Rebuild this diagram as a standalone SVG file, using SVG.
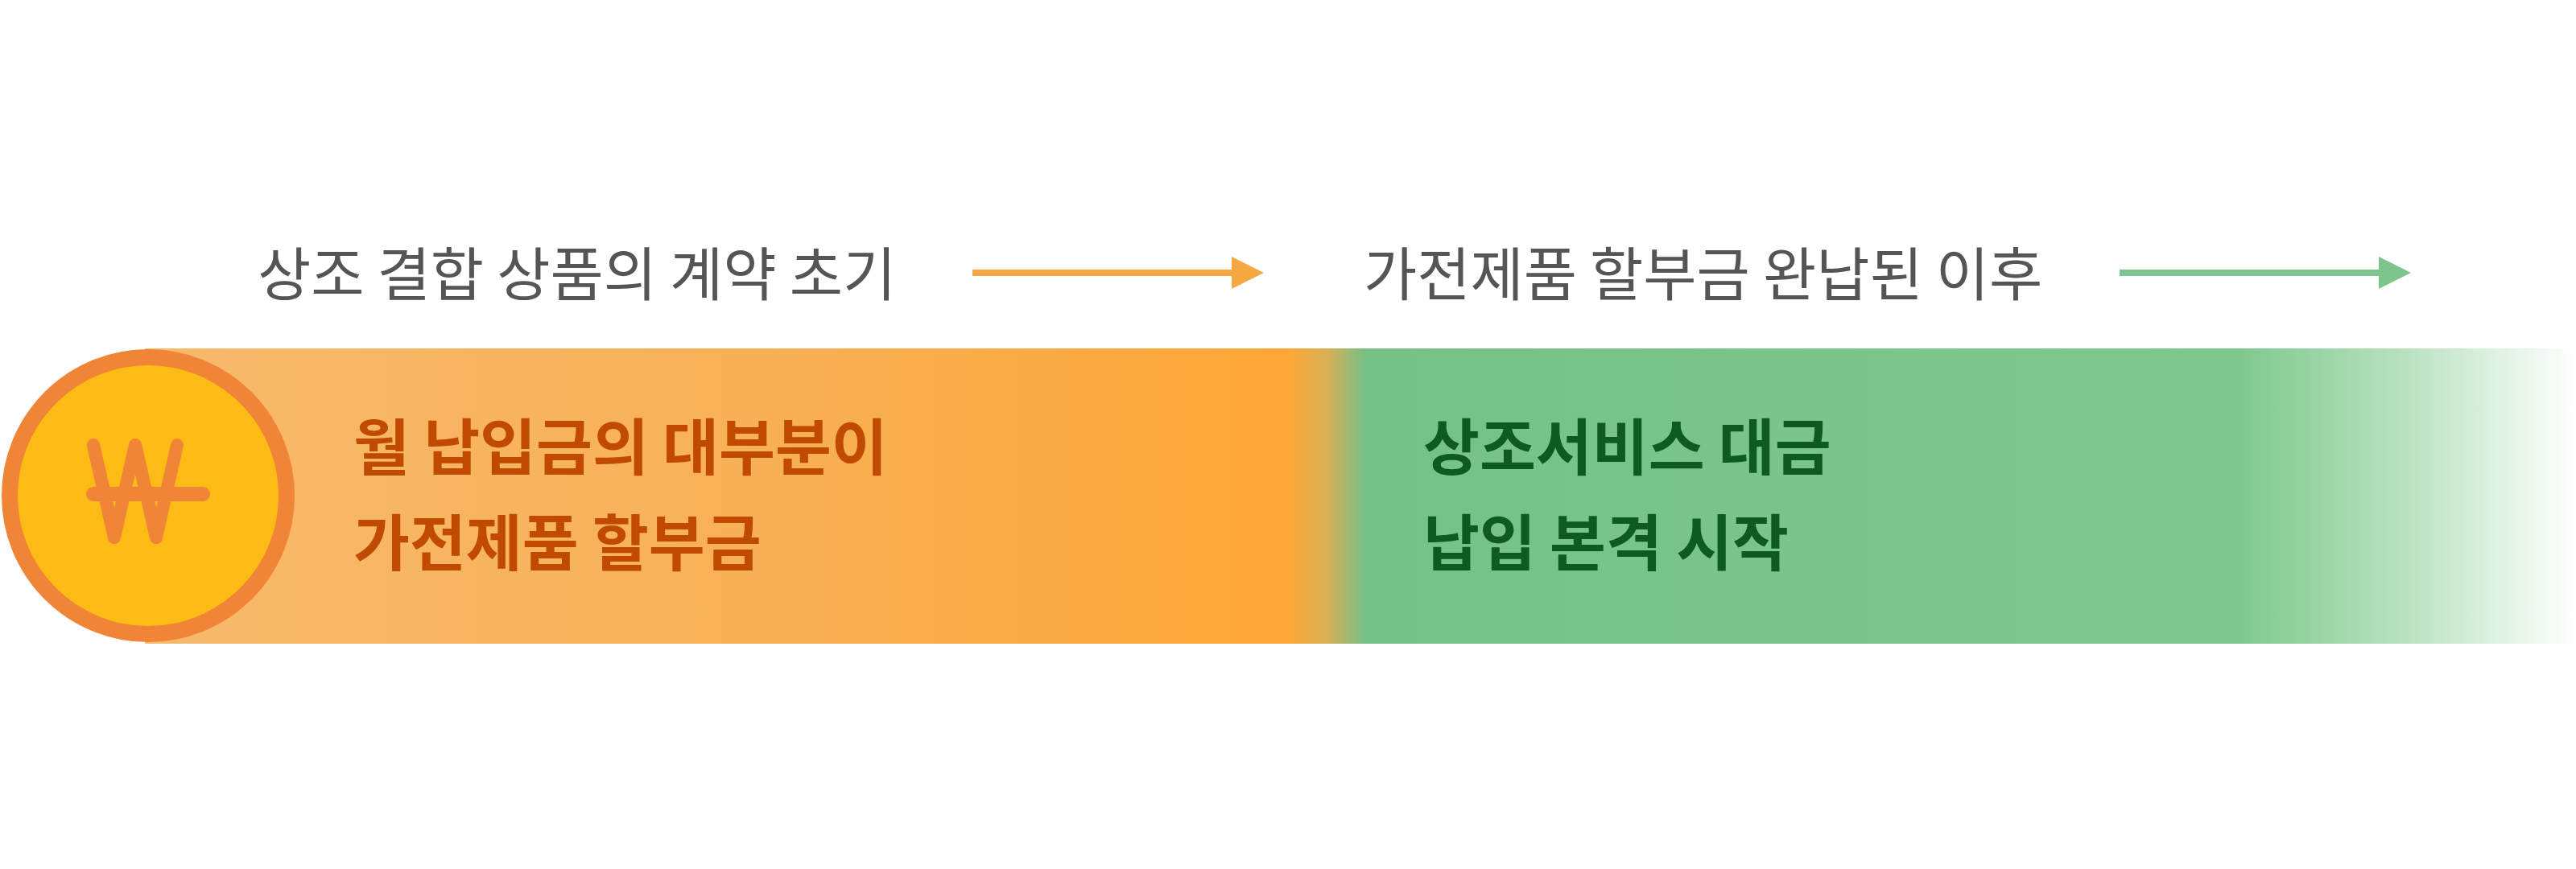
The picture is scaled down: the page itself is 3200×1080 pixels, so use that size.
<svg xmlns="http://www.w3.org/2000/svg" width="3200" height="1080" viewBox="0 0 3200 1080">
<defs>
<linearGradient id="band" x1="0" y1="0" x2="3200" y2="0" gradientUnits="userSpaceOnUse">
<stop offset="0" stop-color="#F6BC72"/>
<stop offset="0.3" stop-color="#F8B055"/>
<stop offset="0.5" stop-color="#FEA736"/>
<stop offset="0.515" stop-color="#D9AF55"/>
<stop offset="0.53" stop-color="#76C186"/>
<stop offset="0.87" stop-color="#80C98E"/>
<stop offset="0.93" stop-color="#B5E0BD"/>
<stop offset="1" stop-color="#FFFFFF"/>
</linearGradient>
<marker id="ho" viewBox="0 0 10 10" refX="0" refY="5" markerWidth="5" markerHeight="5" orient="auto" markerUnits="strokeWidth"><path d="M0,0 L10,5 L0,10 Z" fill="#F5A742"/></marker>
<marker id="hg" viewBox="0 0 10 10" refX="0" refY="5" markerWidth="5" markerHeight="5" orient="auto" markerUnits="strokeWidth"><path d="M0,0 L10,5 L0,10 Z" fill="#7DC58C"/></marker>
</defs>
<style>
.t{font-family:"Noto Sans CJK KR","Noto Sans",sans-serif;font-size:72px;fill:#555555}
.b{font-family:"Noto Sans CJK KR","Noto Sans",sans-serif;font-size:76px;font-weight:bold}
.o{fill:#C04A00}.g{fill:#0F5A1E}
</style>
<rect x="180" y="433" width="3020" height="367" fill="url(#band)"/>
<g id="coin">
<circle cx="184" cy="616" r="172" fill="#FDBB16" stroke="#F08538" stroke-width="20"/>
<path d="M116,553 L142,668 L168,553 L194,668 L220,553" fill="none" stroke="#F08538" stroke-width="16" stroke-linecap="round" stroke-linejoin="round"/>
<line x1="116" y1="614" x2="252" y2="614" stroke="#F08538" stroke-width="18" stroke-linecap="round"/>
<path d="M116,553 L142,668 M168,553 L194,668" fill="none" stroke="#F08538" stroke-width="16" stroke-linecap="round" transform="translate(0,0)"/>
</g>
<g id="phase1"><text class="t" x="320" y="367">상조 결합 상품의 계약 초기</text></g>
<g id="phase2"><text class="t" x="1694" y="367">가전제품 할부금 완납된 이후</text></g>
<g id="body1"><text class="b o" x="439" y="584">월 납입금의 대부분이</text><text class="b o" x="439" y="703">가전제품 할부금</text></g>
<g id="body2"><text class="b g" x="1768" y="584">상조서비스 대금</text><text class="b g" x="1768" y="703">납입 본격 시작</text></g>
<g id="connectors">
<line x1="1208" y1="339" x2="1530" y2="339" stroke="#F5A742" stroke-width="8" marker-end="url(#ho)"/>
<line x1="2633" y1="339" x2="2955" y2="339" stroke="#7DC58C" stroke-width="8" marker-end="url(#hg)"/>
</g>
</svg>
